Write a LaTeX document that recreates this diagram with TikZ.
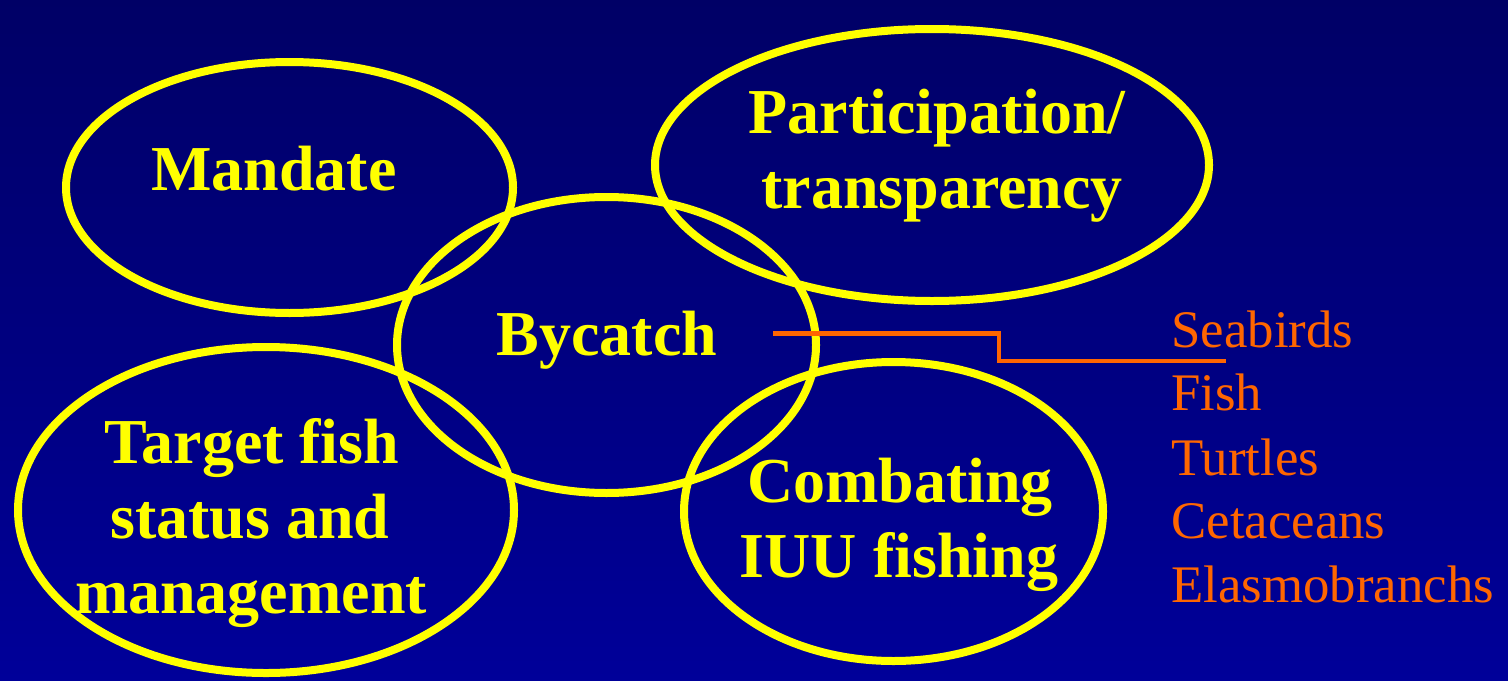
\documentclass[tikz,border=0pt]{standalone}
\usepackage{fontspec}
\setmainfont{Liberation Serif}
\usetikzlibrary{shapes.geometric}
\definecolor{bgtop}{RGB}{0,0,102}
\definecolor{bgbot}{RGB}{0,0,153}
\definecolor{ylw}{RGB}{255,255,0}
\definecolor{orng}{RGB}{255,102,0}
\tikzset{
  oval/.style={ellipse, draw=ylw, line width=4pt, inner sep=0pt},
  lbl/.style={text=ylw, font=\bfseries\fontsize{32}{38}\selectfont, anchor=base, inner sep=0pt},
  item/.style={text=orng, font=\fontsize{26.4}{32}\selectfont, anchor=base west, inner sep=0pt},
  link/.style={draw=orng, line width=2.2pt}
}
\begin{document}
\begin{tikzpicture}[x=0.5pt,y=-0.5pt]
\shade[top color=bgtop, bottom color=bgbot] (0,0) rectangle (1508,680);
\useasboundingbox (0,0) rectangle (1508,680);
% ellipses
\node[oval, minimum width=223.5pt, minimum height=125.5pt] (mandate) at (289.5,187.5) {};
\node[oval, minimum width=277pt, minimum height=136pt] (part) at (932,165) {};
\node[oval, minimum width=209.5pt, minimum height=148pt] (bycatch) at (606.5,345) {};
\node[oval, minimum width=248pt, minimum height=163pt] (target) at (266,510) {};
\node[oval, minimum width=209.5pt, minimum height=149.5pt] (iuu) at (893.5,511.5) {};
% labels
\node[lbl] (tmandate) at (274,190) {Mandate};
\node[lbl] (tpart1) at (937,133) {Participation/};
\node[lbl] (tpart2) at (942,208) {transparency};
\node[lbl] (tbycatch) at (607,355) {Bycatch};
\node[lbl] (ttarget1) at (252,463) {Target fish};
\node[lbl] (ttarget2) at (250,538) {status and};
\node[lbl] (ttarget3) at (251,613) {management};
\node[lbl] (tiuu1) at (900,502) {Combating};
\node[lbl] (tiuu2) at (899,577) {IUU fishing};
% list
\node[item] (seabirds) at (1171,347) {Seabirds};
\node[item] (fish) at (1171,410) {Fish};
\node[item] (turtles) at (1171,475) {Turtles};
\node[item] (cetaceans) at (1171,538) {Cetaceans};
\node[item] (elasmo) at (1171,602) {Elasmobranchs};
% connector
\coordinate (lstart) at (773,333.5);
\coordinate (lend) at (1226,361);
\draw[link] (lstart) -- (999,333.5) -- (999,361) -- (lend);
\end{tikzpicture}
\end{document}
